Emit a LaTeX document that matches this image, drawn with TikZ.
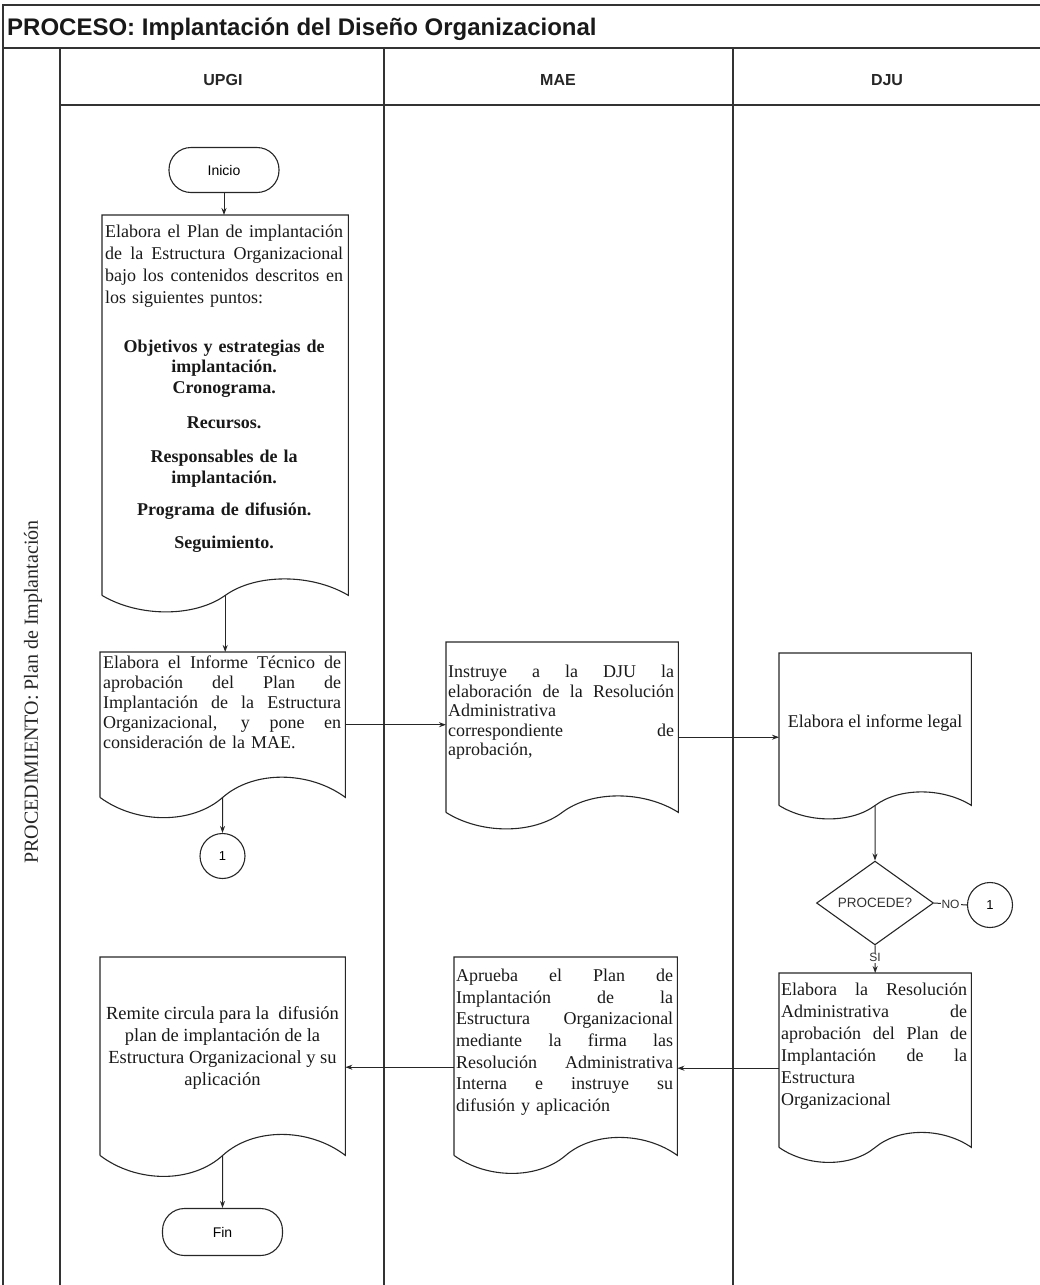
\documentclass[tikz,border=0pt]{standalone}
\usepackage{fontspec}
\setmainfont{Liberation Serif}
\newfontfamily\sansf{Liberation Sans}
\usetikzlibrary{arrows.meta,calc,shapes.geometric}

% one justified line / one centred line inside a text block
% (word spaces get the font's stretch back, which align=left removes)
\newcommand\jl[1]{{\spaceskip=0pt\xspaceskip=0pt\makebox[\hsize][s]{#1}}}
\newcommand\cl[1]{\makebox[\hsize][c]{#1}}

% document symbol drawn on the frame of a placeholder node:
% #1 node name, #2 height of the wave's control points
\newcommand\docshape[2]{%
  \draw[shapeline] (#1.south west) -- (#1.north west) -- (#1.north east) -- (#1.south east)
    .. controls ($(#1.south east)!0.3!(#1.south)+(0,-#2)$) and ($(#1.south east)!0.75!(#1.south)+(0,-#2)$) .. (#1.south)
    .. controls ($(#1.south)!0.25!(#1.south west)+(0,#2)$) and ($(#1.south)!0.7!(#1.south west)+(0,#2)$) .. (#1.south west);}

\begin{document}
\begin{tikzpicture}[x=1pt,y=-1pt,
  lane/.style={line width=1.3pt, draw=black!80},
  headline/.style={line width=2pt, draw=black!80},
  shapeline/.style={line width=1.1pt, draw=black!85},
  arr/.style={line width=1pt, draw=black!85, -{Stealth[length=7pt,width=5pt]}},
  plain/.style={line width=1pt, draw=black!85},
  box/.style={rectangle, draw=none, inner sep=0pt, anchor=north west},
  txt/.style={anchor=north west, inner sep=0pt, align=left, text=black!90},
  term/.style={rectangle, rounded corners=22pt, draw=black!85, line width=1.1pt,
    font=\sansf\fontsize{14}{16}\selectfont, inner sep=0pt},
  conn/.style={circle, draw=black!85, line width=1.1pt, minimum size=45pt, inner sep=0pt,
    font=\sansf\fontsize{13}{15}\selectfont},
  hdr/.style={font=\sansf\bfseries\fontsize{16}{19}\selectfont, text=black!85},
  lbl/.style={font=\sansf\fontsize{12}{14}\selectfont, fill=white, inner sep=1pt, text=black!80}
]
\useasboundingbox (0,0) rectangle (1040,1285);

% ---- frame, title row and lane headers ----
\draw[lane] (1041,5) -- (3,5) -- (3,1286);
\draw[lane] (3,48) -- (1041,48);
\draw[headline] (60,105) -- (1041,105);
\draw[lane] (60,48) -- (60,1286);
\draw[lane] (384,48) -- (384,1286);
\draw[lane] (733,48) -- (733,1286);

\node[anchor=west, inner sep=0pt, font=\sansf\bfseries\fontsize{24}{28}\selectfont, text=black!90]
  (title) at (7,29) {PROCESO: Implantación del Diseño Organizacional};
\node[hdr] (hupgi) at (223,80) {UPGI};
\node[hdr] (hmae) at (558,80) {MAE};
\node[hdr] (hdju) at (887,80) {DJU};
\node[rotate=90, font=\fontsize{20}{23}\selectfont, text=black!85] (proc) at (33,692)
  {PROCEDIMIENTO: Plan de Implantación};

% ---- UPGI lane ----
\node[term, minimum width=110pt, minimum height=45pt] (inicio) at (224,170) {Inicio};

\node[box, minimum width=246pt, minimum height=380pt] (d1) at (102,215) {};
\docshape{d1}{22}
\node[txt, text width=238pt, font=\fontsize{18}{22}\selectfont] (t1) at (105,225) {%
\jl{Elabora el Plan de implantación}\\
\jl{de la Estructura Organizacional}\\
\jl{bajo los contenidos descritos en}\\
los siguientes puntos:\\[27pt]
\cl{\textbf{Objetivos y estrategias de}}\\[-2pt]
\cl{\textbf{implantación.}}\\[-1pt]
\cl{\textbf{Cronograma.}}\\[13pt]
\cl{\textbf{Recursos.}}\\[12pt]
\cl{\textbf{Responsables de la}}\\[-1pt]
\cl{\textbf{implantación.}}\\[10pt]
\cl{\textbf{Programa de difusión.}}\\[11pt]
\cl{\textbf{Seguimiento.}}};

\node[box, minimum width=245pt, minimum height=145pt] (d2) at (100,652) {};
\docshape{d2}{27}
\node[txt, text width=238pt, font=\fontsize{18}{20}\selectfont] (t2) at (103,656) {%
\jl{Elabora el Informe Técnico de}\\
\jl{aprobación del Plan de}\\
\jl{Implantación de la Estructura}\\
\jl{Organizacional, y pone en}\\
consideración de la MAE.};

\node[conn] (c1a) at (222.5,856) {1};

\node[box, minimum width=245pt, minimum height=198pt] (d7) at (100,957) {};
\docshape{d7}{28}
\node[anchor=north, inner sep=0pt, align=center, text=black!90, font=\fontsize{18.5}{22}\selectfont]
  (t7) at (222.5,1006) {%
Remite circula para la \ difusión\\
plan de implantación de la\\
Estructura Organizacional y su\\
aplicación};

\node[term, minimum width=120pt, minimum height=47pt] (fin) at (222.5,1232) {Fin};

% ---- MAE lane ----
\node[box, minimum width=232pt, minimum height=170pt] (d3) at (446,642) {};
\docshape{d3}{22}
\node[txt, text width=226pt, font=\fontsize{18}{19.5}\selectfont] (t3) at (448,665) {%
\jl{Instruye a la DJU la}\\
\jl{elaboración de la Resolución}\\
Administrativa\\
\jl{correspondiente de}\\
aprobación,};

\node[box, minimum width=223pt, minimum height=198pt] (d6) at (454,957) {};
\docshape{d6}{24}
\node[txt, text width=217pt, font=\fontsize{18}{21.6}\selectfont] (t6) at (456,969) {%
\jl{Aprueba el Plan de}\\
\jl{Implantación de la}\\
\jl{Estructura Organizacional}\\
\jl{mediante la firma las}\\
\jl{Resolución Administrativa}\\
\jl{Interna e instruye su}\\
difusión y aplicación};

% ---- DJU lane ----
\node[box, minimum width=192pt, minimum height=152pt] (d4) at (779,653) {};
\docshape{d4}{18}
\node[inner sep=0pt, text=black!90, font=\fontsize{18}{20}\selectfont] (t4) at (875,723)
  {Elabora el informe legal};

\node[diamond, draw=black!85, line width=1.1pt, minimum width=117pt, minimum height=70pt,
  inner sep=0pt, font=\sansf\fontsize{13.5}{15}\selectfont, text=black!80] (dec) at (875,903) {PROCEDE?};
\node[conn] (c1b) at (990,905) {1};

\node[box, minimum width=192pt, minimum height=174pt] (d5) at (779,973) {};
\docshape{d5}{20}
\node[txt, text width=186pt, font=\fontsize{18}{22}\selectfont] (t5) at (781,983) {%
\jl{Elabora la Resolución}\\
\jl{Administrativa de}\\
\jl{aprobación del Plan de}\\
\jl{Implantación de la}\\
Estructura\\
Organizacional};

% ---- connectors ----
\draw[arr] (inicio.south) -- (inicio.south |- d1.north);
\draw[arr] (d1.south) -- (d1.south |- d2.north);
\draw[arr] (d2.south) -- (c1a.north);
\draw[arr] (d2.east) -- (d2.east -| d3.west);
\coordinate (p34) at ($(d3.east)+(0,10)$);
\draw[arr] (p34) -- (p34 -| d4.west);
\draw[arr] (d4.south) -- (dec.north);
\draw[plain] (dec.east) -- node[lbl] {NO} (c1b.west);
\draw[arr] (dec.south) -- node[lbl, pos=0.45] {SI} (d5.north);
\coordinate (p56) at ($(d5.west)+(0,8)$);
\draw[arr] (p56) -- (p56 -| d6.east);
\coordinate (p67) at ($(d6.west)+(0,11)$);
\draw[arr] (p67) -- (p67 -| d7.east);
\draw[arr] (d7.south) -- (fin.north);
\end{tikzpicture}
\end{document}
